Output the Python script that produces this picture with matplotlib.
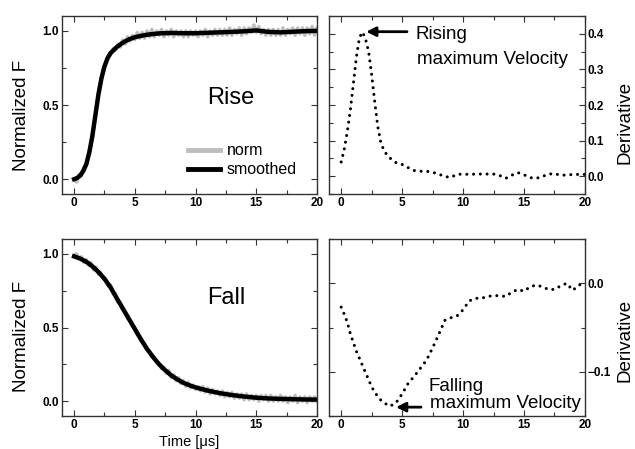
import numpy as np
import matplotlib
matplotlib.use('Agg')
import matplotlib.pyplot as plt
from matplotlib.ticker import MultipleLocator

plt.rcParams['font.family'] = ['Liberation Sans', 'DejaVu Sans']

# rise: smoothed curve and raw normalized signal
t_rise_s = [0, 0.25, 0.5, 0.75, 1.0, 1.25, 1.5, 1.75, 2.0, 2.25, 2.5, 2.75, 3.0, 3.5, 4.0,
            4.5, 5.0, 5.5, 6, 7, 8, 9, 10, 11, 12, 13, 14, 15, 16, 17, 18, 19, 20]
rise_smooth = [0.0, 0.008, 0.025, 0.055, 0.10, 0.18, 0.29, 0.43, 0.57, 0.68, 0.76, 0.815, 0.85,
               0.89, 0.92, 0.942, 0.957, 0.966, 0.974, 0.983, 0.986, 0.984, 0.984, 0.987, 0.99,
               0.993, 0.997, 1.003, 0.993, 0.99, 0.994, 0.998, 1.0]

t_norm = [round(0.2 * i, 1) for i in range(101)]
rise_norm = [0.00, -0.02, 0.03, 0.02, 0.08, 0.10, 0.18, 0.24, 0.36, 0.45,
             0.58, 0.66, 0.75, 0.78, 0.83, 0.84, 0.88, 0.87, 0.91, 0.89,
             0.94, 0.91, 0.96, 0.93, 0.97, 0.94, 0.99, 0.95, 0.99, 0.95,
             1.00, 0.96, 1.01, 0.96, 1.00, 0.97, 1.01, 0.96, 1.00, 0.97,
             1.01, 0.96, 1.00, 0.97, 1.00, 0.96, 1.00, 0.96, 1.00, 0.97,
             1.00, 0.96, 1.00, 0.97, 1.01, 0.96, 1.00, 0.97, 1.01, 0.97,
             1.01, 0.97, 1.01, 0.97, 1.02, 0.97, 1.01, 0.98, 1.02, 0.97,
             1.02, 0.98, 1.02, 0.99, 1.04, 0.99, 1.03, 0.98, 1.01, 0.97,
             1.01, 0.97, 1.01, 0.97, 1.01, 0.97, 1.02, 0.97, 1.01, 0.98,
             1.02, 0.97, 1.02, 0.98, 1.02, 0.97, 1.02, 0.98, 1.03, 0.97, 1.02]

# fall: smoothed curve and raw normalized signal
t_fall_s = [0, 0.5, 1.0, 1.5, 2.0, 2.5, 3.0, 3.5, 4.0, 4.5, 5.0, 5.5, 6.0, 6.5, 7.0, 7.5, 8.0,
            8.5, 9.0, 9.5, 10, 11, 12, 13, 14, 15, 16, 17, 18, 19, 20]
fall_smooth = [0.982, 0.967, 0.946, 0.915, 0.877, 0.83, 0.772, 0.70, 0.63, 0.56, 0.49, 0.42,
               0.355, 0.30, 0.25, 0.21, 0.175, 0.148, 0.125, 0.108, 0.094, 0.072, 0.055, 0.042,
               0.032, 0.024, 0.019, 0.016, 0.014, 0.012, 0.011]
fall_norm = [0.99, 1.00, 0.97, 0.98, 0.94, 0.96, 0.92, 0.94, 0.89, 0.91,
             0.86, 0.87, 0.83, 0.83, 0.78, 0.79, 0.73, 0.73, 0.67, 0.67,
             0.62, 0.61, 0.56, 0.55, 0.51, 0.50, 0.45, 0.44, 0.40, 0.39,
             0.35, 0.34, 0.30, 0.30, 0.26, 0.26, 0.22, 0.23, 0.19, 0.21,
             0.16, 0.18, 0.14, 0.16, 0.12, 0.14, 0.10, 0.13, 0.09, 0.11,
             0.08, 0.10, 0.07, 0.10, 0.06, 0.09, 0.05, 0.08, 0.05, 0.07,
             0.04, 0.07, 0.03, 0.06, 0.03, 0.06, 0.02, 0.05, 0.02, 0.05,
             0.01, 0.05, 0.01, 0.04, 0.01, 0.04, 0.00, 0.04, 0.01, 0.04,
             0.00, 0.04, 0.00, 0.03, 0.00, 0.04, 0.00, 0.03, -0.01, 0.03,
             0.00, 0.04, -0.01, 0.03, 0.00, 0.03, -0.01, 0.03, 0.00, 0.03, 0.00]

# derivatives
t_deriv = [0, 0.25, 0.5, 0.75, 1.0, 1.25, 1.5, 1.75, 2.0, 2.25, 2.5, 2.75, 3.0, 3.25, 3.5, 3.75,
           4.0, 4.5, 5.0, 5.5, 6.0, 6.5, 7.0, 7.5, 8.0, 8.5, 9.0, 9.5, 10.0, 10.5, 11.0, 11.5,
           12.0, 12.5, 13.0, 13.5, 14.0, 14.5, 15.0, 15.5, 16.0, 16.5, 17.0, 17.5, 18.0, 18.5,
           19.0, 19.5, 20.0]
rise_deriv = [0.040, 0.075, 0.125, 0.185, 0.26, 0.335, 0.39, 0.405, 0.385, 0.35, 0.285, 0.21,
              0.14, 0.095, 0.073, 0.060, 0.051, 0.038, 0.033, 0.024, 0.016, 0.014, 0.014, 0.011,
              0.006, -0.001, -0.003, 0.005, 0.006, 0.005, 0.006, 0.006, 0.006, 0.006, 0.002,
              -0.006, 0.003, 0.010, 0.004, -0.004, -0.006, -0.001, 0.006, 0.007, 0.003, 0.003,
              0.005, 0.005, 0.005]
fall_deriv = [-0.027, -0.035, -0.044, -0.057, -0.067, -0.077, -0.085, -0.093, -0.101, -0.109,
              -0.117, -0.123, -0.128, -0.132, -0.135, -0.137, -0.139, -0.135, -0.125, -0.113,
              -0.105, -0.096, -0.087, -0.073, -0.058, -0.042, -0.039, -0.037, -0.030, -0.020,
              -0.017, -0.017, -0.015, -0.014, -0.014, -0.015, -0.010, -0.007, -0.009, -0.004,
              -0.002, -0.004, -0.007, -0.007, -0.003, 0.000, -0.008, -0.002, 0.000]

fig = plt.figure(figsize=(6.35, 4.49), dpi=100)
ax1 = fig.add_axes([0.0976, 0.5679, 0.4016, 0.3964])
ax2 = fig.add_axes([0.5181, 0.5679, 0.4031, 0.3964])
ax3 = fig.add_axes([0.0976, 0.0735, 0.4016, 0.3942])
ax4 = fig.add_axes([0.5181, 0.0735, 0.4031, 0.3942])

grey = '#bdbdbd'
dots = (0, (0.01, 2.2))


def style(ax, right=False):
    ax.set_xlim(-1, 20)
    ax.xaxis.set_major_locator(MultipleLocator(5))
    ax.xaxis.set_minor_locator(MultipleLocator(2.5))
    ax.tick_params(which='both', direction='in', top=True, right=True, color='#333333',
                   labelsize=8.5, pad=2)
    ax.tick_params(which='major', length=4, width=0.8)
    ax.tick_params(which='minor', length=3, width=0.8)
    if right:
        ax.tick_params(labelleft=False, labelright=True)
    for s in ax.spines.values():
        s.set_color('#333333')
        s.set_linewidth(1.0)
    for lab in ax.get_xticklabels() + ax.get_yticklabels():
        lab.set_fontweight('bold')


# Rise
ax1.plot(t_norm, rise_norm, color=grey, lw=2.4, label='norm')
ax1.plot(t_rise_s, rise_smooth, color='black', lw=3.2, label='smoothed')
ax1.set_ylim(-0.1, 1.1)
ax1.yaxis.set_major_locator(MultipleLocator(0.5))
ax1.yaxis.set_minor_locator(MultipleLocator(0.25))
ax1.text(12.9, 0.55, 'Rise', fontsize=17, ha='center', va='center')
leg = ax1.legend(loc='upper left', bbox_to_anchor=(0.495, 0.285), frameon=False, fontsize=11.5,
                 handlelength=2.0, handletextpad=0.4, labelspacing=0.25, borderpad=0,
                 borderaxespad=0)
for h in leg.get_lines():
    h.set_linewidth(3.5)
ax1.set_ylabel('Normalized F', fontsize=13.5)
ax1.yaxis.set_label_coords(-0.125, 0.44)
style(ax1)

# Rise derivative
ax2.plot(t_deriv, rise_deriv, color='black', lw=2.2, linestyle=dots, dash_capstyle='round')
ax2.set_ylim(-0.05, 0.45)
ax2.yaxis.set_major_locator(MultipleLocator(0.1))
ax2.yaxis.set_minor_locator(MultipleLocator(0.05))
ax2.annotate('', xy=(2.05, 0.406), xytext=(5.4, 0.406),
             arrowprops=dict(arrowstyle='-|>', color='black', lw=2, mutation_scale=14,
                             shrinkA=0, shrinkB=0))
ax2.text(6.13, 0.398, 'Rising', fontsize=13.5, ha='left', va='center')
ax2.text(6.18, 0.328, 'maximum Velocity', fontsize=13.5, ha='left', va='center')
ax2.set_ylabel('Derivative', fontsize=13.5)
ax2.yaxis.set_label_position('right')
ax2.yaxis.set_label_coords(1.125, 0.40)
style(ax2, right=True)

# Fall
ax3.plot(t_norm, fall_norm, color=grey, lw=2.4)
ax3.plot(t_fall_s, fall_smooth, color='black', lw=3.2)
ax3.set_ylim(-0.1, 1.1)
ax3.yaxis.set_major_locator(MultipleLocator(0.5))
ax3.yaxis.set_minor_locator(MultipleLocator(0.25))
ax3.text(12.5, 0.70, 'Fall', fontsize=17, ha='center', va='center')
ax3.set_ylabel('Normalized F', fontsize=13.5)
ax3.yaxis.set_label_coords(-0.125, 0.45)
ax3.set_xlabel('Time [\u03bcs]', fontsize=10.5, labelpad=3)
style(ax3)

# Fall derivative
ax4.plot(t_deriv, fall_deriv, color='black', lw=2.2, linestyle=dots, dash_capstyle='round')
ax4.set_ylim(-0.15, 0.05)
ax4.yaxis.set_major_locator(MultipleLocator(0.1))
ax4.yaxis.set_minor_locator(MultipleLocator(0.05))
ax4.annotate('', xy=(4.5, -0.140), xytext=(6.55, -0.140),
             arrowprops=dict(arrowstyle='-|>', color='black', lw=2, mutation_scale=14,
                             shrinkA=0, shrinkB=0))
ax4.text(7.15, -0.117, 'Falling', fontsize=13.5, ha='left', va='center')
ax4.text(7.26, -0.1355, 'maximum Velocity', fontsize=13.5, ha='left', va='center')
ax4.set_ylabel('Derivative', fontsize=13.5)
ax4.yaxis.set_label_position('right')
ax4.yaxis.set_label_coords(1.125, 0.425)
style(ax4, right=True)

fig.savefig('out.png', dpi=100)
